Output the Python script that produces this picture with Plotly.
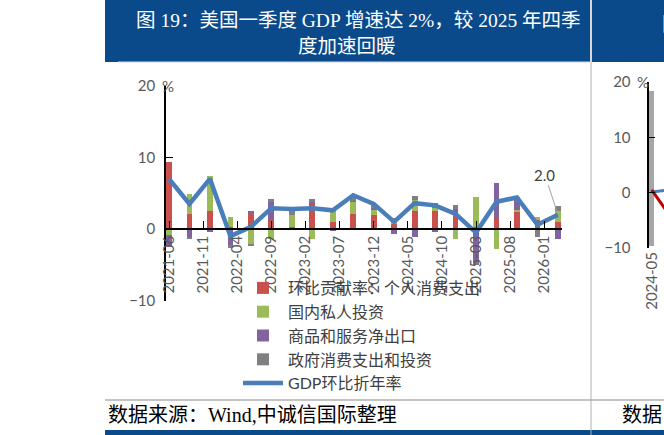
import plotly.graph_objects as go

W, H = 664, 435

# ---------------- data (main chart) ----------------
quarters = ["2021-06", "2021-09", "2021-12", "2022-03", "2022-06", "2022-09", "2022-12",
            "2023-03", "2023-06", "2023-09", "2023-12", "2024-03", "2024-06", "2024-09",
            "2024-12", "2025-03", "2025-06", "2025-09", "2025-12", "2026-03"]
consumption = [9.4, 2.2, 2.6, 0.3, 2.3, 1.25, 0.4, 3.6, 1.0, 2.2, 1.95, 0.8, 2.6, 2.55, 2.5, 0.4, 1.6, 2.4, 1.25, 1.1]
private_inv = [-0.8, 2.7, 4.8, 1.4, -2.0, -1.3, 1.6, -1.4, 1.6, 1.7, 0.8, 0.6, 1.5, 0.4, -1.3, 4.1, -2.7, 0.3, 0.45, 1.4]
net_exports = [-1.4, -1.1, -0.3, -2.2, 0.3, 2.7, 0.0, 0.2, -0.2, 0.1, 0.2, -0.6, -1.1, -0.4, 0.3, -4.7, 4.9, 1.6, 0.0, -1.3]
government = [-0.2, -0.2, 0.0, -0.4, -0.3, 0.25, 0.7, 0.5, 0.2, 0.7, 0.55, 0.2, 0.6, 0.75, 0.6, -0.3, 0.0, 0.1, -1.1, 0.8]
gdp_qoq_ann = [7.0, 3.5, 7.0, -1.0, 0.3, 2.9, 2.8, 2.9, 2.6, 4.7, 3.5, 1.0, 3.6, 3.3, 2.1, -0.5, 3.8, 4.4, 0.6, 2.0]

tick_labels = ["2021-06", "2021-11", "2022-04", "2022-09", "2023-02", "2023-07",
               "2023-12", "2024-05", "2024-10", "2025-03", "2025-08", "2026-01"]
y_ticks = [-10, 0, 10, 20]

series_names = ["环比贡献率：个人消费支出", "国内私人投资", "商品和服务净出口", "政府消费支出和投资", "GDP环比折年率"]

# ---------------- data (cropped neighbour chart on the right) ----------------
right_months = ["2024-05", "2024-08"]
right_band_top = [18.4, None]
right_band_bottom = [-9.6, None]
right_red = [0.5, -3.8]
right_blue = [0.1, 0.5]


def month_index(s):
    y, m = s.split("-")
    return (int(y) - 2021) * 12 + int(m) - 6


def month_index_r(s):
    y, m = s.split("-")
    return (int(y) - 2024) * 12 + int(m) - 5


xq = [month_index(q) for q in quarters]
xt = [month_index(t) for t in tick_labels]
xr = [month_index_r(m) for m in right_months]

C_RED = "#c9504c"
C_GREEN = "#9bbb59"
C_PURPLE = "#8064a2"
C_GRAY = "#808080"
C_BLUE = "#4a7ebb"
TXT = "#595959"
FONT = "Lato, Noto Sans CJK SC, sans-serif"
SERIF = "Liberation Serif, Noto Sans CJK SC, serif"
BLUE_BAND = "#0b4a8a"


def px_x(p):
    return p / W


def px_y(p):
    return (H - p) / H


fig = go.Figure()

bar_w = 0.85
for vals, col, name in zip([consumption, private_inv, net_exports, government],
                           [C_RED, C_GREEN, C_PURPLE, C_GRAY], series_names[:4]):
    fig.add_trace(go.Bar(x=xq, y=vals, name=name, marker=dict(color=col, line=dict(width=0)),
                         width=bar_w, xaxis="x", yaxis="y"))

fig.add_trace(go.Scatter(x=xq, y=gdp_qoq_ann, name=series_names[4], mode="lines",
                         line=dict(color=C_BLUE, width=4.5), xaxis="x", yaxis="y"))

# right cropped chart
fig.add_trace(go.Bar(x=xr, y=[t - b if t is not None else None for t, b in zip(right_band_top, right_band_bottom)],
                     base=right_band_bottom, marker=dict(color="#a6a6a6", line=dict(width=0)),
                     width=0.9, xaxis="x2", yaxis="y2", showlegend=False))
fig.add_trace(go.Scatter(x=xr, y=right_blue, mode="lines", line=dict(color=C_BLUE, width=3),
                         xaxis="x2", yaxis="y2", showlegend=False))
fig.add_trace(go.Scatter(x=xr, y=right_red, mode="lines", line=dict(color="#c00000", width=3),
                         xaxis="x2", yaxis="y2", showlegend=False))

# main axes geometry
y_top_px, y_bot_px = 85.6, 300.7
x_left_px, x_right_px = 166, 562
zero_paper = px_y(229)

fig.update_layout(
    width=W, height=H,
    margin=dict(l=0, r=0, t=0, b=0, pad=0),
    paper_bgcolor="white", plot_bgcolor="rgba(0,0,0,0)",
    barmode="relative", bargap=0,
    font=dict(family=FONT, color=TXT, size=14),
    xaxis=dict(domain=[px_x(x_left_px), px_x(x_right_px)], range=[-0.44, 57.6],
               anchor="free", position=zero_paper,
               tickmode="array", tickvals=xt, ticktext=tick_labels, tickangle=-90,
               ticks="inside", ticklen=7, tickcolor="black", tickwidth=1.2,
               showline=True, linecolor="black", linewidth=1.5,
               showgrid=False, zeroline=False, automargin=False,
               tickfont=dict(size=15, color=TXT, family=FONT)),
    yaxis=dict(domain=[px_y(y_bot_px), px_y(y_top_px)], range=[-10, 20],
               anchor="x", tickmode="array", tickvals=y_ticks,
               ticks="inside", ticklen=7, tickcolor="black", tickwidth=1.2,
               showline=True, linecolor="black", linewidth=1.5,
               showgrid=False, zeroline=False, automargin=False,
               ticklabelstandoff=6,
               tickfont=dict(size=15, color=TXT, family=FONT)),
    xaxis2=dict(domain=[px_x(648.3), 1.0], range=[-0.6, 2.2], anchor="y2",
                tickmode="array", tickvals=[xr[0]], ticktext=[right_months[0]], tickangle=-90,
                ticks="", showline=False, showgrid=False, zeroline=False, automargin=False,
                tickfont=dict(size=15, color=TXT, family=FONT)),
    yaxis2=dict(domain=[px_y(248), px_y(82)], range=[-10, 20], anchor="free", position=px_x(648.3),
                tickmode="array", tickvals=y_ticks,
                ticks="inside", ticklen=6, tickcolor="black",
                showline=True, linecolor="black", linewidth=1.5,
                showgrid=False, zeroline=False, automargin=False,
                ticklabelstandoff=14,
                tickfont=dict(size=15, color=TXT, family=FONT)),
    legend=dict(x=px_x(238), y=px_y(271), xanchor="left", yanchor="top",
                traceorder="normal", bgcolor="rgba(0,0,0,0)",
                font=dict(size=16, color="#404040", family=FONT),
                tracegroupgap=0, itemwidth=40),
    showlegend=True,
)

shapes = [
    # title bands
    dict(type="rect", xref="paper", yref="paper", x0=px_x(105), x1=px_x(590), y0=px_y(62), y1=1,
         fillcolor=BLUE_BAND, line=dict(width=0), layer="below"),
    dict(type="rect", xref="paper", yref="paper", x0=px_x(592), x1=1, y0=px_y(62), y1=1,
         fillcolor=BLUE_BAND, line=dict(width=0), layer="below"),
    # bottom band
    dict(type="rect", xref="paper", yref="paper", x0=px_x(105), x1=1, y0=0, y1=px_y(430),
         fillcolor=BLUE_BAND, line=dict(width=0), layer="below"),
    # panel separators
    dict(type="line", xref="paper", yref="paper", x0=px_x(591), x1=px_x(591), y0=0, y1=1,
         line=dict(color="#b0b0b0", width=1)),
    dict(type="line", xref="paper", yref="paper", x0=px_x(105), x1=1, y0=px_y(400), y1=px_y(400),
         line=dict(color="#b0b0b0", width=1.5)),
    dict(type="line", xref="paper", yref="paper", x0=px_x(118), x1=px_x(590), y0=px_y(62), y1=px_y(62),
         line=dict(color="#d0d8e4", width=1)),
]
fig.update_layout(shapes=shapes)

TITLE_FONT = dict(family=SERIF, size=19.5, color="white")
annotations = [
    dict(text="图 19：美国一季度 GDP 增速达 2%，较 2025 年四季", x=px_x(358), y=px_y(21),
         xref="paper", yref="paper", showarrow=False, font=TITLE_FONT, xanchor="center", yanchor="middle"),
    dict(text="度加速回暖", x=px_x(347), y=px_y(47),
         xref="paper", yref="paper", showarrow=False, font=TITLE_FONT, xanchor="center", yanchor="middle"),
    dict(text="图", x=px_x(660), y=px_y(24), xref="paper", yref="paper", showarrow=False,
         font=TITLE_FONT, xanchor="left", yanchor="middle"),
    dict(text="数据来源：Wind,中诚信国际整理", x=px_x(106), y=px_y(415), xref="paper", yref="paper",
         showarrow=False, xanchor="left", yanchor="middle",
         font=dict(family=SERIF, size=20, color="black")),
    dict(text="数据", x=px_x(620), y=px_y(415), xref="paper", yref="paper",
         showarrow=False, xanchor="left", yanchor="middle",
         font=dict(family=SERIF, size=20, color="black")),
    dict(text="%", x=px_x(160), y=20, xref="paper", yref="y", showarrow=False,
         xanchor="left", yanchor="middle", font=dict(size=15, color=TXT, family=FONT)),
    dict(text="%", x=px_x(635), y=20, xref="paper", yref="y2", showarrow=False,
         xanchor="left", yanchor="middle", font=dict(size=15, color=TXT, family=FONT)),
    dict(text=f"{gdp_qoq_ann[-1]:.1f}", x=xq[-1], y=gdp_qoq_ann[-1], xref="x", yref="y",
         showarrow=True, arrowhead=0, arrowwidth=1, arrowcolor="#a0a0a0", ax=-13, ay=-40,
         standoff=4, font=dict(size=15, color="#404040", family=FONT)),
]
fig.update_layout(annotations=annotations)

fig.write_html("out.html")
